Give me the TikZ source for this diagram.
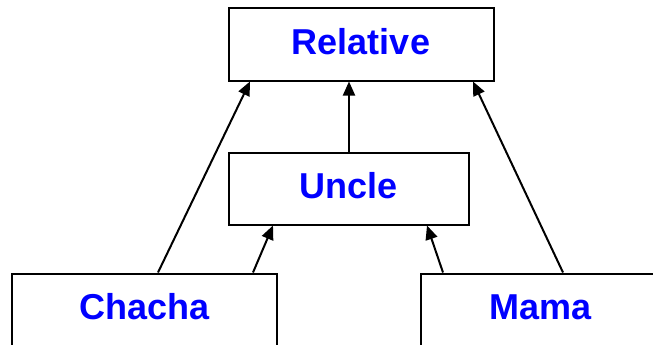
\documentclass[tikz,border=0pt]{standalone}
\usepackage{fontspec}
\setmainfont{Liberation Sans}
\usetikzlibrary{arrows.meta}
\definecolor{labelblue}{RGB}{0,0,255}
\begin{document}
\begin{tikzpicture}[x=1pt,y=-1pt,
  classbox/.style={draw=black,line width=2pt,fill=white,minimum height=72pt,
    inner sep=0pt,text height=26pt,text depth=6pt,
    font=\fontsize{36}{40}\selectfont\bfseries,text=labelblue},
  inherit/.style={line width=2pt,-{Triangle[length=14pt,width=12pt]}}]
\useasboundingbox (0,0) rectangle (653,345);
\clip (0,0) rectangle (653,345);
\node[classbox,minimum width=265pt] (relative) at (361,44.5) {Relative};
\node[classbox,minimum width=240pt] (uncle) at (349,188.5) {Uncle};
\node[classbox,minimum width=265pt] (chacha) at (144.5,309.5) {Chacha};
\node[classbox,minimum width=240pt] (mama) at (541,309.5) {Mama};
\draw[inherit] ([xshift=13.5pt]chacha.north) -- ([xshift=-111pt]relative.south);
\draw[inherit] ([xshift=108.5pt]chacha.north) -- ([xshift=-76pt]uncle.south);
\draw[inherit] (uncle.north) -- ([xshift=-12pt]relative.south);
\draw[inherit] ([xshift=22pt]mama.north) -- ([xshift=112pt]relative.south);
\draw[inherit] ([xshift=-98pt]mama.north) -- ([xshift=78pt]uncle.south);
\end{tikzpicture}
\end{document}
